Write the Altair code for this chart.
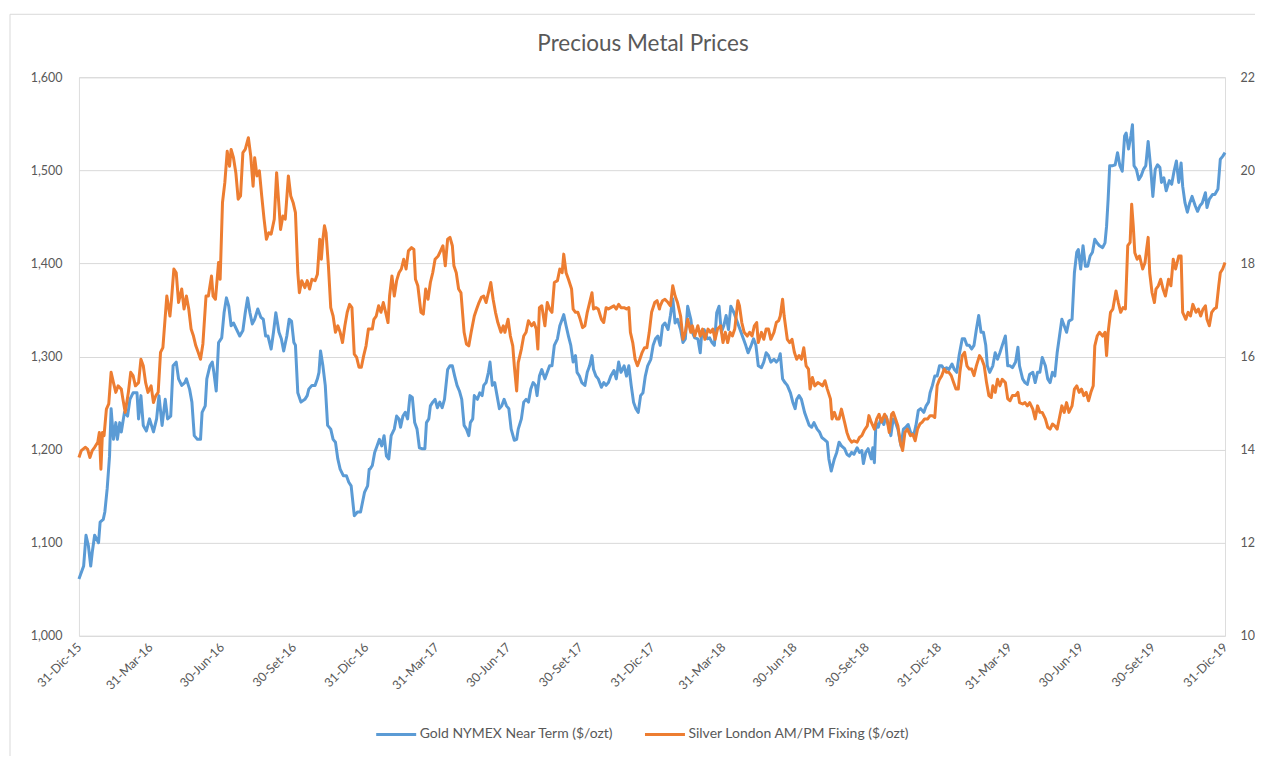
import altair as alt
import pandas as pd

# ---------------- data ----------------
start_date = "2015-12-31"

gold_name = "Gold NYMEX Near Term ($/ozt)"
silver_name = "Silver London AM/PM Fixing ($/ozt)"

# days elapsed since 31-Dec-2015
gold_days = [
    0, 6, 9, 12, 15, 17, 20, 25, 27, 31, 33, 36, 39, 41, 44, 47, 49, 52, 54, 58, 62, 65, 69, 74, 76, 79,
    82, 86, 90, 95, 99, 102, 106, 110, 113, 117, 120, 124, 127, 131, 135, 137, 141, 144, 147, 151, 155,
    157, 161, 163, 167, 170, 172, 175, 178, 182, 185, 188, 191, 194, 197, 201, 205, 209, 212, 215, 218,
    221, 224, 228, 232, 235, 238, 241, 245, 248, 251, 255, 258, 261, 265, 268, 271, 274, 276, 279, 283,
    288, 291, 293, 297, 301, 304, 306, 308, 311, 314, 317, 321, 324, 327, 330, 333, 337, 341, 344, 347,
    351, 355, 359, 364, 368, 370,
    371, 374, 377, 380, 383, 386, 389, 392, 395, 398, 402, 405, 408, 410, 413, 416, 419, 422, 425, 428,
    431, 434, 437, 441, 443, 446, 448, 451, 454, 457, 460, 463, 466, 470, 473, 476, 479, 482, 485, 488,
    491, 494, 497, 499, 502, 504, 508, 511, 514, 516, 519, 522, 524, 527, 530, 533, 536, 539, 542, 545,
    548, 551, 555, 558, 560, 564, 567, 570, 573, 576, 579, 582, 584, 587, 590, 594, 597, 600, 603, 606,
    610, 613, 616, 618, 621, 624, 627, 630, 633, 635, 638, 641, 645, 648, 651, 654, 656, 659, 662, 666,
    669, 672, 675, 678, 682, 685, 688, 691, 695, 698, 701, 704, 707, 710, 713, 716, 719, 722, 725, 729,
    732, 735, 738,
    741, 744, 747, 751, 754, 757, 760, 763, 767, 770, 773, 776, 780, 782, 785, 789, 792, 794, 797, 801,
    804, 807, 810, 813, 816, 819, 822, 825, 828, 831, 835, 838, 841, 844, 847, 850, 853, 857, 860, 863,
    866, 870, 873, 876, 879, 882, 886, 889, 892, 894, 897, 900, 903, 907, 910, 913, 915, 918, 921, 925,
    928, 931, 934, 937, 941, 944, 947, 950, 954, 956, 959, 963, 966, 969, 972, 976, 979, 982, 985, 988,
    992, 995, 998, 1000, 1003, 1006, 1010, 1012, 1014, 1016, 1019, 1022, 1026, 1029, 1032, 1035, 1038,
    1041, 1044, 1048, 1051, 1054, 1057, 1060, 1064, 1067, 1070, 1073, 1077, 1080, 1083, 1085, 1088, 1091,
    1094, 1097, 1100, 1103, 1106, 1109,
    1113, 1116, 1119, 1122, 1126, 1129, 1132, 1135, 1138, 1141, 1144, 1147, 1150, 1153, 1156, 1158, 1161,
    1165, 1168, 1171, 1174, 1177, 1181, 1184, 1187, 1190, 1194, 1197, 1199, 1203, 1206, 1209, 1212, 1216,
    1219, 1222, 1225, 1228, 1232, 1235, 1238, 1241, 1244, 1247, 1250, 1253, 1256, 1259, 1262, 1266, 1269,
    1272, 1274, 1277, 1280, 1283, 1286, 1289, 1292, 1295, 1298, 1301, 1305, 1308, 1310, 1312, 1314, 1318,
    1321, 1324, 1327, 1330, 1333, 1335, 1338, 1341, 1343, 1345, 1348, 1351, 1354, 1357, 1360, 1363, 1366,
    1369, 1372, 1375, 1378, 1380, 1383, 1386, 1390, 1393, 1396, 1399, 1402, 1405, 1407, 1410, 1413, 1416,
    1419, 1423, 1426, 1429, 1432, 1436, 1438, 1441, 1445, 1448, 1452, 1455, 1458, 1461,
]
gold_prices = [
    1061, 1075, 1108, 1097, 1075, 1090, 1108, 1100, 1122, 1125, 1133, 1158, 1193, 1244, 1211, 1229, 1211,
    1229, 1219, 1240, 1236, 1254, 1261, 1261, 1233, 1258, 1226, 1220, 1233, 1219, 1233, 1258, 1226, 1254,
    1233, 1236, 1290, 1294, 1276, 1269, 1272, 1276, 1265, 1251, 1215, 1211, 1211, 1240, 1247, 1276, 1290,
    1294, 1283, 1263, 1315, 1320, 1347, 1363, 1354, 1333, 1336, 1329, 1322, 1328, 1347, 1363, 1347, 1335,
    1340, 1351, 1342, 1340, 1322, 1322, 1308, 1326, 1347, 1326, 1319, 1306, 1322, 1340, 1338, 1315, 1312,
    1261, 1251, 1254, 1258, 1265, 1269, 1269, 1276, 1283, 1306, 1290, 1269, 1226, 1222, 1211, 1208, 1190,
    1179, 1172, 1172, 1165, 1161, 1129, 1133, 1133, 1154, 1161, 1179,
    1179, 1183, 1197, 1204, 1211, 1204, 1215, 1193, 1190, 1215, 1222, 1236, 1233, 1224, 1236, 1240, 1233,
    1258, 1256, 1229, 1222, 1202, 1201, 1201, 1229, 1233, 1247, 1251, 1254, 1245, 1251, 1245, 1254, 1286,
    1290, 1290, 1279, 1269, 1263, 1254, 1226, 1222, 1215, 1229, 1233, 1258, 1254, 1261, 1258, 1269, 1272,
    1283, 1294, 1269, 1272, 1258, 1244, 1247, 1254, 1247, 1244, 1222, 1210, 1211, 1222, 1233, 1251, 1254,
    1251, 1265, 1272, 1269, 1258, 1279, 1286, 1276, 1283, 1290, 1290, 1312, 1319, 1333, 1340, 1345, 1333,
    1322, 1312, 1294, 1301, 1283, 1279, 1272, 1269, 1283, 1290, 1301, 1286, 1279, 1276, 1267, 1272, 1269,
    1272, 1279, 1285, 1276, 1294, 1283, 1290, 1279, 1290, 1269, 1251, 1244, 1240, 1258, 1261, 1279, 1290,
    1297, 1312, 1319, 1322,
    1312, 1333, 1336, 1329, 1344, 1362, 1336, 1340, 1329, 1315, 1319, 1354, 1340, 1326, 1320, 1319, 1304,
    1326, 1329, 1319, 1320, 1315, 1312, 1347, 1354, 1326, 1333, 1344, 1329, 1354, 1347, 1340, 1333, 1326,
    1319, 1312, 1304, 1312, 1319, 1312, 1290, 1288, 1294, 1304, 1301, 1294, 1297, 1294, 1297, 1303, 1276,
    1272, 1269, 1261, 1251, 1244, 1254, 1258, 1254, 1240, 1233, 1226, 1224, 1229, 1222, 1219, 1213, 1211,
    1208, 1190, 1177, 1190, 1197, 1208, 1204, 1201, 1195, 1193, 1197, 1195, 1202, 1197, 1199, 1185, 1197,
    1201, 1190, 1202, 1186, 1229, 1224, 1233, 1227, 1236, 1226, 1215, 1233, 1229, 1222, 1204, 1222, 1224,
    1227, 1219, 1215, 1226, 1242, 1244, 1240, 1247, 1251, 1261, 1269, 1279, 1279, 1290, 1290, 1286, 1288,
    1286,
    1292, 1286, 1283, 1301, 1319, 1319, 1312, 1312, 1308, 1312, 1329, 1344, 1326, 1326, 1312, 1290, 1283,
    1290, 1304, 1297, 1304, 1312, 1322, 1290, 1290, 1288, 1294, 1310, 1290, 1276, 1272, 1270, 1281, 1283,
    1272, 1283, 1283, 1299, 1290, 1276, 1272, 1283, 1279, 1304, 1322, 1340, 1333, 1326, 1338, 1340, 1390,
    1412, 1415, 1394, 1419, 1397, 1397, 1408, 1412, 1426, 1422, 1419, 1417, 1422, 1440, 1469, 1505, 1505,
    1506, 1519, 1505, 1499, 1537, 1540, 1523, 1537, 1549, 1505, 1501, 1490, 1494, 1501, 1505, 1531, 1505,
    1472, 1501, 1506, 1503, 1487, 1492, 1478, 1489, 1485, 1499, 1510, 1487, 1508, 1483, 1465, 1455, 1465,
    1472, 1462, 1456, 1462, 1465, 1476, 1460, 1469, 1474, 1474, 1480, 1512, 1515, 1519,
]

silver_days = [
    0, 3, 8, 11, 14, 17, 20, 24, 26, 28, 30, 32, 35, 38, 41, 44, 47, 50, 54, 56, 59, 63, 66, 69, 72, 76,
    79, 82, 85, 88, 92, 95, 98, 101, 104, 107, 112, 116, 118, 121, 124, 127, 131, 134, 137, 140, 143, 146,
    149, 152, 155, 158, 162, 165, 169, 171, 174, 178, 180, 183, 186, 189, 192, 194, 197, 200, 203, 206,
    209, 212, 216, 219, 222, 224, 227, 230, 233, 236, 239, 242, 245, 249, 252, 255, 257, 260, 263, 267,
    270, 273, 276, 279, 281, 284, 288, 291, 294, 297, 301, 304, 307, 309, 311, 313, 315, 318, 321, 324,
    327, 330, 333, 336, 339, 342, 345, 348, 351, 354, 357, 360, 363, 366, 369,
    371, 374, 376, 379, 382, 385, 388, 391, 394, 396, 399, 402, 405, 408, 411, 414, 417, 420, 424, 427,
    429, 432, 436, 439, 442, 445, 448, 451, 454, 458, 461, 464, 467, 470, 473, 476, 478, 481, 484, 487,
    491, 494, 497, 500, 504, 507, 510, 513, 516, 519, 522, 525, 528, 531, 534, 538, 541, 543, 547, 550,
    553, 555, 558, 560, 564, 567, 570, 573, 577, 580, 583, 585, 587, 590, 594, 597, 600, 603, 606, 610,
    613, 616, 618, 621, 624, 628, 630, 633, 636, 639, 642, 645, 648, 651, 654, 656, 659, 662, 666, 669,
    672, 675, 678, 682, 685, 688, 691, 695, 698, 701, 703, 706, 709, 712, 715, 718, 721, 724, 727, 730,
    734, 737, 740,
    741, 744, 747, 751, 754, 757, 760, 763, 767, 770, 773, 776, 780, 782, 785, 789, 792, 795, 798, 802,
    805, 808, 811, 814, 818, 821, 824, 827, 830, 833, 836, 840, 842, 845, 848, 852, 855, 858, 861, 864,
    866, 870, 873, 876, 879, 882, 886, 889, 892, 894, 897, 899, 903, 906, 909, 912, 915, 918, 921, 924,
    927, 930, 932, 935, 938, 942, 945, 948, 951, 954, 958, 960, 963, 966, 969, 972, 976, 979, 982, 985,
    988, 992, 995, 998, 1001, 1005, 1007, 1010, 1014, 1017, 1020, 1023, 1027, 1030, 1033, 1036, 1038,
    1041, 1044, 1047, 1050, 1053, 1056, 1060, 1063, 1066, 1069, 1072, 1075, 1078, 1082, 1085, 1088, 1091,
    1094, 1097, 1100, 1103, 1106, 1109,
    1112, 1115, 1118, 1121, 1123, 1126, 1129, 1132, 1135, 1138, 1141, 1144, 1148, 1151, 1154, 1157, 1160,
    1163, 1165, 1168, 1171, 1174, 1177, 1181, 1184, 1187, 1190, 1194, 1197, 1199, 1203, 1206, 1209, 1212,
    1216, 1219, 1222, 1225, 1228, 1232, 1235, 1238, 1241, 1244, 1247, 1250, 1253, 1256, 1259, 1262, 1266,
    1269, 1272, 1275, 1278, 1281, 1284, 1287, 1290, 1293, 1295, 1298, 1301, 1305, 1308, 1310, 1312, 1315,
    1318, 1322, 1325, 1328, 1331, 1334, 1337, 1340, 1342, 1344, 1346, 1349, 1352, 1356, 1359, 1361, 1363,
    1365, 1368, 1371, 1373, 1376, 1379, 1382, 1385, 1389, 1392, 1395, 1398, 1402, 1405, 1407, 1411, 1414,
    1417, 1420, 1424, 1427, 1430, 1433, 1436, 1438, 1441, 1444, 1447, 1450, 1453, 1455, 1458, 1461,
]
silver_prices = [
    13.83, 13.98, 14.05, 14.01, 13.83, 13.98, 14.05, 14.16, 14.37, 13.58, 14.37, 14.30, 14.87, 14.98, 15.66,
    15.44, 15.23, 15.37, 15.30, 15.09, 14.80, 15.23, 15.66, 15.59, 15.37, 15.44, 15.94, 15.80, 15.44, 15.23,
    15.37, 15.01, 15.16, 15.23, 16.09, 16.19, 17.30, 16.87, 17.23, 17.88, 17.80, 17.16, 17.45, 17.02, 17.30,
    17.02, 16.59, 16.44, 16.23, 16.09, 15.94, 16.27, 17.30, 17.30, 17.73, 17.30, 17.23, 18.02, 17.66, 19.31,
    19.74, 20.41, 20.09, 20.45, 20.27, 19.95, 19.38, 19.45, 20.38, 20.45, 20.70, 20.31, 19.66, 20.27, 19.88,
    19.99, 19.45, 18.95, 18.52, 18.66, 18.63, 18.95, 19.95, 19.23, 18.73, 19.02, 18.95, 19.88, 19.45, 19.31,
    19.09, 17.80, 17.37, 17.63, 17.48, 17.63, 17.45, 17.66, 17.63, 17.77, 18.52, 18.09, 18.52, 18.81, 18.66,
    17.95, 17.05, 16.87, 16.52, 16.66, 16.52, 16.30, 16.66, 16.95, 17.12, 17.05, 16.05, 15.98, 15.77, 15.77,
    16.02, 16.23, 16.59,
    16.59, 16.59, 16.80, 16.87, 17.09, 16.95, 17.16, 16.95, 16.73, 17.30, 17.73, 17.30, 17.63, 17.80, 17.88,
    18.09, 17.88, 18.27, 18.34, 18.30, 17.66, 17.52, 16.95, 16.91, 17.45, 17.23, 17.59, 17.80, 18.09, 18.16,
    18.27, 18.38, 17.95, 18.52, 18.56, 18.38, 17.95, 17.80, 17.45, 17.37, 16.52, 16.27, 16.23, 16.52, 16.87,
    17.02, 17.16, 17.27, 17.30, 17.16, 17.37, 17.59, 17.23, 16.95, 16.73, 16.52, 16.66, 16.52, 16.80, 16.44,
    16.23, 15.80, 15.26, 15.87, 16.16, 16.44, 16.52, 16.77, 16.66, 16.73, 16.59, 16.16, 17.05, 17.09, 16.66,
    17.16, 17.02, 16.95, 17.59, 17.63, 17.88, 17.80, 18.20, 17.80, 17.66, 17.45, 17.02, 16.95, 16.95, 16.80,
    16.62, 16.66, 16.95, 17.16, 17.37, 17.02, 17.05, 17.02, 16.80, 16.73, 17.05, 17.02, 17.05, 17.09, 17.02,
    17.12, 17.05, 17.05, 17.02, 17.05, 16.52, 16.30, 15.94, 15.80, 15.94, 16.09, 16.19, 16.19, 16.52, 16.95,
    17.16, 17.20, 17.02,
    17.09, 17.20, 17.23, 17.16, 17.09, 17.52, 17.30, 17.16, 16.87, 16.37, 16.52, 16.80, 16.52, 16.66, 16.44,
    16.66, 16.44, 16.59, 16.37, 16.59, 16.52, 16.59, 16.37, 16.59, 16.66, 16.30, 16.52, 16.30, 16.52, 16.44,
    16.59, 17.20, 17.09, 16.73, 16.52, 16.44, 16.52, 16.44, 16.66, 16.73, 16.30, 16.52, 16.37, 16.59, 16.59,
    16.37, 16.52, 16.73, 16.77, 16.87, 17.23, 16.87, 16.37, 16.30, 16.37, 16.09, 15.94, 16.02, 15.94, 16.19,
    15.80, 15.73, 15.30, 15.55, 15.37, 15.44, 15.41, 15.37, 15.48, 15.30, 15.09, 14.66, 14.80, 14.66, 14.66,
    14.87, 14.59, 14.37, 14.23, 14.16, 14.19, 14.16, 14.26, 14.30, 14.41, 14.51, 14.73, 14.59, 14.44, 14.66,
    14.76, 14.59, 14.76, 14.66, 14.37, 14.76, 14.80, 14.66, 14.51, 14.16, 13.98, 14.37, 14.44, 14.30, 14.33,
    14.19, 14.44, 14.55, 14.59, 14.66, 14.66, 14.73, 14.73, 14.69, 15.37, 15.51, 15.59, 15.73, 15.66, 15.66,
    15.59, 15.44, 15.30, 15.30, 15.66, 16.02, 16.09, 15.80, 15.73, 15.73, 15.59, 15.80, 16.02, 15.94, 15.80,
    15.44, 15.16, 15.12, 15.37, 15.23, 15.51, 15.37, 15.51, 15.44, 15.09, 15.05, 15.16, 15.16, 15.23, 15.01,
    14.98, 15.01, 14.94, 15.01, 14.87, 14.66, 14.94, 14.80, 14.80, 14.66, 14.48, 14.44, 14.55, 14.51, 14.44,
    14.69, 14.94, 14.80, 15.01, 14.80, 14.94, 15.30, 15.37, 15.23, 15.30, 15.16, 15.23, 15.05, 15.23, 15.37,
    16.23, 16.44, 16.52, 16.44, 16.52, 16.02, 16.52, 16.95, 17.02, 17.41, 17.16, 16.95, 17.05, 17.02, 18.38,
    18.45, 19.27, 18.81, 18.23, 18.09, 18.16, 17.88, 18.02, 18.30, 18.56, 17.80, 17.37, 17.16, 17.45, 17.52,
    17.66, 17.45, 17.30, 17.66, 17.52, 18.09, 17.88, 18.16, 18.16, 16.95, 16.80, 16.95, 16.87, 17.12, 16.95,
    17.02, 16.87, 17.02, 17.09, 16.80, 16.66, 16.95, 17.02, 17.05, 17.52, 17.80, 17.88, 18.02,
]

tick_dates = [
    "2015-12-31", "2016-03-31", "2016-06-30", "2016-09-30", "2016-12-31", "2017-03-31", "2017-06-30",
    "2017-09-30", "2017-12-31", "2018-03-31", "2018-06-30", "2018-09-30", "2018-12-31", "2019-03-31",
    "2019-06-30", "2019-09-30", "2019-12-31",
]
tick_labels = [
    "31-Dic-15", "31-Mar-16", "30-Jun-16", "30-Set-16", "31-Dic-16", "31-Mar-17", "30-Jun-17",
    "30-Set-17", "31-Dic-17", "31-Mar-18", "30-Jun-18", "30-Set-18", "31-Dic-18", "31-Mar-19",
    "30-Jun-19", "30-Set-19", "31-Dic-19",
]
gold_ticks = [1000, 1100, 1200, 1300, 1400, 1500, 1600]
silver_ticks = [10, 12, 14, 16, 18, 20, 22]

# ---------------- build ----------------
t0 = pd.Timestamp(start_date)
tick_days = [int((pd.Timestamp(d) - t0).days) for d in tick_dates]
label_expr = " : ".join(f"datum.value == {d} ? '{l}'" for d, l in zip(tick_days, tick_labels)) + " : ''"

gold_df = pd.DataFrame({"day": gold_days, "price": gold_prices, "series": gold_name})
silver_df = pd.DataFrame({"day": silver_days, "price": silver_prices, "series": silver_name})

FONT = "Lato"
TXT = "#595959"
GRID = "#d9d9d9"

x_enc = alt.X(
    "day:Q",
    title=None,
    scale=alt.Scale(domain=[0, tick_days[-1]], nice=False, zero=False),
    axis=alt.Axis(
        values=tick_days, labelExpr=label_expr, labelAngle=-45, labelAlign="right",
        labelBaseline="middle", labelPadding=9, grid=False, domain=False, ticks=False,
        labelFontSize=12.5, labelColor=TXT, labelFont=FONT,
    ),
)

color_enc = alt.Color(
    "series:N",
    scale=alt.Scale(domain=[gold_name, silver_name], range=["#5B9BD5", "#ED7D31"]),
    legend=alt.Legend(
        title=None, orient="none", direction="horizontal", legendX=296, legendY=636,
        symbolType="stroke", symbolSize=1600, symbolStrokeWidth=3, labelFontSize=14,
        labelColor=TXT, labelFont=FONT, columnPadding=24, labelOffset=2, labelLimit=400,
    ),
)

gold_line = alt.Chart(gold_df).mark_line(strokeWidth=3, strokeJoin="round").encode(
    x=x_enc,
    y=alt.Y(
        "price:Q", title=None,
        scale=alt.Scale(domain=[1000, 1600], nice=False, zero=False),
        axis=alt.Axis(
            orient="left", values=gold_ticks, format=",.0f", grid=True, gridColor=GRID, gridWidth=1,
            domain=False, ticks=False, labelPadding=17, labelFontSize=12.5, labelColor=TXT, labelFont=FONT,
        ),
    ),
    color=color_enc,
)

silver_line = alt.Chart(silver_df).mark_line(strokeWidth=3, strokeJoin="round").encode(
    x=x_enc,
    y=alt.Y(
        "price:Q", title=None,
        scale=alt.Scale(domain=[10, 22], nice=False, zero=False),
        axis=alt.Axis(
            orient="right", values=silver_ticks, format=".0f", grid=False, domain=False, ticks=False,
            labelPadding=15, labelFontSize=12.5, labelColor=TXT, labelFont=FONT,
        ),
    ),
    color=color_enc,
)

# light frame of the chart area (left and top edges), drawn in pixels relative to the plot
frame = alt.Data(values=[{"k": 0}])
frame_left = alt.Chart(frame).mark_rule(color=GRID, strokeWidth=1).encode(
    x=alt.value(-69), y=alt.value(-63), y2=alt.value(700)
)
frame_top = alt.Chart(frame).mark_rule(color=GRID, strokeWidth=1).encode(
    x=alt.value(-69), x2=alt.value(1200), y=alt.value(-63)
)

chart = (
    alt.layer(frame_left, frame_top, gold_line, silver_line)
    .resolve_scale(y="independent")
    .properties(
        width=1147, height=559,
        title=alt.TitleParams(
            "Precious Metal Prices", anchor="middle", fontSize=22.5, font=FONT, fontWeight="normal",
            color=TXT, baseline="alphabetic", offset=0, dx=-9, dy=60,
        ),
        padding={"left": 71, "top": 69, "right": 30, "bottom": 120},
        autosize=alt.AutoSizeParams(type="none"),
    )
    .configure_view(stroke=None)
    .configure(background="white")
)

chart.save("out.html", embed_options={"renderer": "svg", "actions": False})
